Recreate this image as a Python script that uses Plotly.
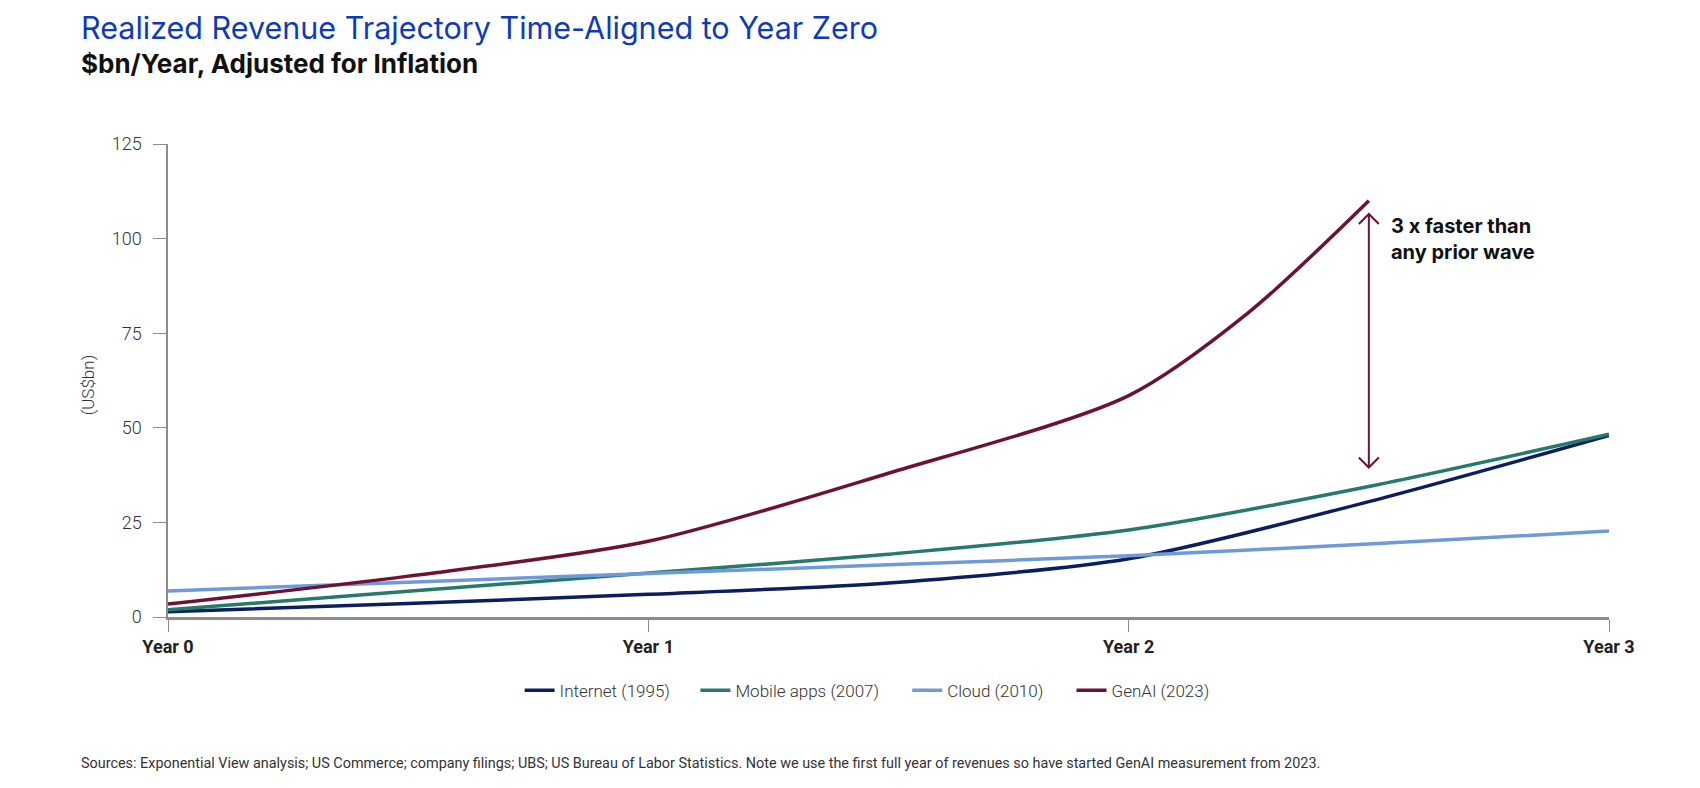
"""
Realized revenue trajectory of tech waves, time-aligned to year zero
"""

import plotly.graph_objects as go

# years since the first full year of revenue
years = [0, 0.5, 1, 1.5, 2, 2.5, 3]
genai_years = [0, 0.5, 1, 1.5, 2, 2.25, 2.5]

# US$bn, inflation adjusted
internet = [1.4, 3.6, 6.0, 9.0, 15.4, 30.5, 48.0]
mobile = [1.9, 6.8, 11.6, 16.6, 23.0, 34.5, 48.3]
cloud = [6.9, 9.2, 11.5, 13.8, 16.2, 19.3, 22.7]
genai = [3.4, 10.8, 20.0, 38.0, 58.5, 80.5, 110.0]

series_names = ['Internet (1995)', 'Mobile apps (2007)', 'Cloud (2010)', 'GenAI (2023)']
colors = ['#0b1f5e', '#25796d', '#6e9ad8', '#6d1232']

y_ticks = [0, 25, 50, 75, 100, 125]
x_ticks = [0, 1, 2, 3]
x_labels = ['Year 0', 'Year 1', 'Year 2', 'Year 3']

# the "3 x faster" arrow
arrow_x = 2.5
arrow_top = 106.5
arrow_bottom = 39.5

NARROW = 'Roboto, Liberation Sans Narrow, sans-serif'
HEAD = 'Inter, Open Sans, sans-serif'
AXIS_GREY = '#8c8c8c'

# one small legend per series so the entries sit where the original has them
legend_ids = ['legend', 'legend2', 'legend3', 'legend4']
legend_x = [0.244, 0.366, 0.513, 0.627]

fig = go.Figure()
for name, xs, ys, c, lg in zip(series_names,
                               [years, years, years, genai_years],
                               [internet, mobile, cloud, genai],
                               colors, legend_ids):
    fig.add_trace(go.Scatter(x=xs, y=ys, name=name, mode='lines', legend=lg,
                             line=dict(color=c, width=3.5, shape='spline', smoothing=0.8)))

# arrow shaft and open chevron heads, anchored on data, sized in pixels
fig.add_shape(type='line', x0=arrow_x, x1=arrow_x, y0=arrow_bottom, y1=arrow_top,
              line=dict(color=colors[3], width=2))
for y_anchor, path in [(arrow_top, 'M -10,-10 L 0,0 L 10,-10'),
                       (arrow_bottom, 'M -10,10 L 0,0 L 10,10')]:
    fig.add_shape(type='path', xsizemode='pixel', ysizemode='pixel',
                  xanchor=arrow_x, yanchor=y_anchor, path=path,
                  line=dict(color=colors[3], width=2))

fig.add_annotation(x=arrow_x, y=arrow_top, xref='x', yref='y',
                   text='3 x faster than<br>any prior wave', showarrow=False,
                   xanchor='left', yanchor='top', align='left', xshift=20, yshift=2,
                   font=dict(family=HEAD, size=20, color='#111111', weight='bold'))

# titles and footnote
fig.add_annotation(x=-0.0615, y=1.2455, xref='paper', yref='paper', showarrow=False,
                   text='Realized Revenue Trajectory Time-Aligned to Year Zero',
                   xanchor='left', yanchor='middle',
                   font=dict(family=HEAD, size=30.5, color='#0d3cb4'))
fig.add_annotation(x=-0.0615, y=1.17, xref='paper', yref='paper', showarrow=False,
                   text='$bn/Year, Adjusted for Inflation',
                   xanchor='left', yanchor='middle',
                   font=dict(family=HEAD, size=26, color='#111111', weight='bold'))
fig.add_annotation(x=-0.0555, y=0.49, xref='paper', yref='paper', showarrow=False,
                   text='(US$bn)', textangle=-90, xanchor='center', yanchor='middle',
                   font=dict(family=NARROW, size=17, color='#333333', weight=300))
fig.add_annotation(x=-0.0615, y=-0.3105, xref='paper', yref='paper', showarrow=False,
                   text='Sources: Exponential View analysis; US Commerce; company filings; UBS; '
                        'US Bureau of Labor Statistics. Note we use the first full year of revenues '
                        'so have started GenAI measurement from 2023.',
                   xanchor='left', yanchor='middle',
                   font=dict(family=NARROW, size=14.4, color='#333333'))

layout_legends = {}
for lg, lx in zip(legend_ids, legend_x):
    layout_legends[lg] = dict(orientation='h', x=lx, xanchor='left', y=-0.156, yanchor='middle',
                              font=dict(family=NARROW, size=17, color='#333333', weight=300),
                              itemwidth=30, bgcolor='rgba(0,0,0,0)')

fig.update_layout(
    width=1700, height=788,
    margin=dict(l=160, r=99, t=136, b=179),
    paper_bgcolor='white', plot_bgcolor='white',
    showlegend=True,
    **layout_legends,
)
fig.update_xaxes(range=[0, 3], tickvals=x_ticks, ticktext=x_labels,
                 showgrid=False, zeroline=False, showline=True,
                 linecolor=AXIS_GREY, linewidth=2.5,
                 ticks='outside', ticklen=12, tickcolor=AXIS_GREY, tickwidth=1.2,
                 ticklabelstandoff=0,
                 tickfont=dict(family=NARROW, size=18, color='#222222', weight='bold'))
fig.update_yaxes(range=[0, 125], tickvals=y_ticks,
                 showgrid=False, zeroline=False, showline=True,
                 linecolor=AXIS_GREY, linewidth=1.5,
                 ticks='outside', ticklen=13, tickcolor=AXIS_GREY, tickwidth=1.2,
                 ticklabelstandoff=8,
                 tickfont=dict(family=NARROW, size=18, color='#333333', weight=300))

fig.write_html("out.html")
